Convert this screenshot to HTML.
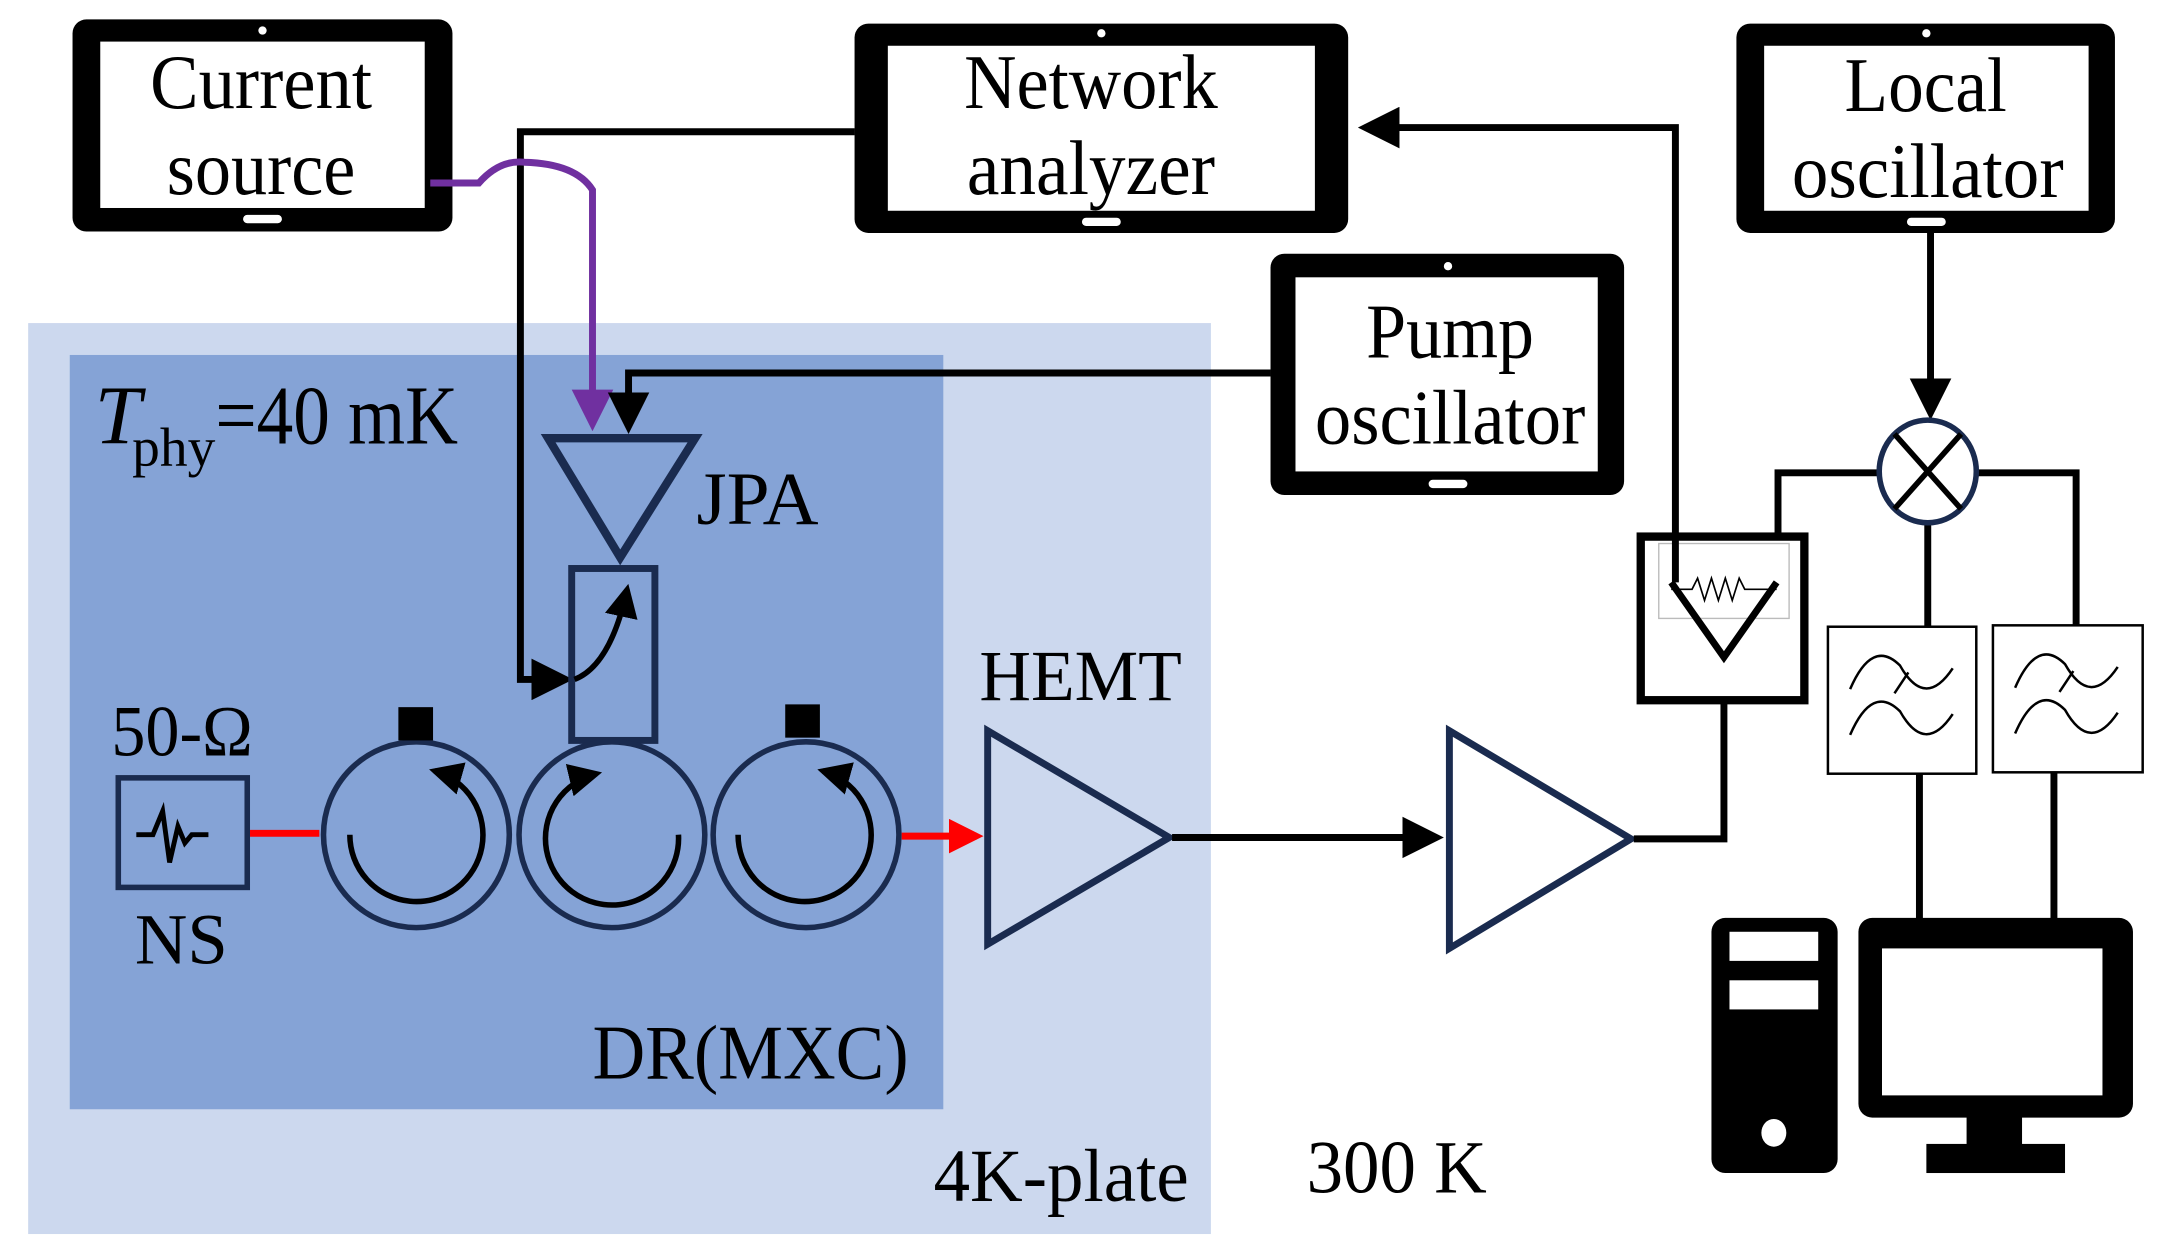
<!DOCTYPE html>
<html><head><meta charset="utf-8"><style>
html,body{margin:0;padding:0;background:#fff;}
svg{display:block;}
text{font-family:"Liberation Serif",serif;fill:#000;}
</style></head><body>
<svg width="2175" height="1259" viewBox="0 0 1568 908" xmlns="http://www.w3.org/2000/svg">
<defs>
<marker id="ak" markerWidth="6" markerHeight="6" refX="5" refY="3" orient="auto" markerUnits="strokeWidth"><path d="M0,0 L6,3 L0,6 Z" fill="#000"/></marker>
<marker id="ap" markerWidth="6" markerHeight="6" refX="5" refY="3" orient="auto" markerUnits="strokeWidth"><path d="M0,0 L6,3 L0,6 Z" fill="#7030a0"/></marker>
<marker id="ar" markerWidth="5" markerHeight="5" refX="4" refY="2.5" orient="auto" markerUnits="strokeWidth"><path d="M0,0 L5,2.5 L0,5 Z" fill="#ff0000"/></marker>
</defs>
<rect x="20" y="233" width="853" height="657" fill="#ccd8ee"/>
<rect x="50" y="256" width="630" height="544" fill="#85a3d6"/>

<g>
<rect x="52" y="14" width="274" height="153" rx="10" fill="#000"/>
<rect x="72" y="30" width="234" height="120" fill="#fff"/>
<circle cx="189" cy="22" r="3" fill="#fff"/><rect x="175" y="155" width="28" height="6" rx="3" fill="#fff"/>
<text x="108" y="78" font-size="56" textLength="160" lengthAdjust="spacingAndGlyphs">Current</text>
<text x="120" y="140" font-size="56" textLength="136" lengthAdjust="spacingAndGlyphs">source</text>
</g>
<g>
<rect x="616" y="17" width="356" height="151" rx="10" fill="#000"/>
<rect x="640" y="33" width="308" height="119" fill="#fff"/>
<circle cx="794" cy="24" r="3" fill="#fff"/><rect x="780" y="157" width="28" height="6" rx="3" fill="#fff"/>
<text x="695" y="78" font-size="56" textLength="183" lengthAdjust="spacingAndGlyphs">Network</text>
<text x="697" y="140" font-size="56" textLength="179" lengthAdjust="spacingAndGlyphs">analyzer</text>
</g>
<g>
<rect x="1252" y="17" width="273" height="151" rx="10" fill="#000"/>
<rect x="1272" y="33" width="234" height="119" fill="#fff"/>
<circle cx="1389" cy="24" r="3" fill="#fff"/><rect x="1375" y="157" width="28" height="6" rx="3" fill="#fff"/>
<text x="1330" y="80" font-size="56" textLength="117" lengthAdjust="spacingAndGlyphs">Local</text>
<text x="1292" y="142" font-size="56" textLength="196" lengthAdjust="spacingAndGlyphs">oscillator</text>
</g>
<g>
<rect x="916" y="183" width="255" height="174" rx="10" fill="#000"/>
<rect x="934" y="200" width="218" height="140" fill="#fff"/>
<circle cx="1044" cy="192" r="3" fill="#fff"/><rect x="1030" y="346" width="28" height="6" rx="3" fill="#fff"/>
<text x="985" y="258" font-size="56" textLength="121" lengthAdjust="spacingAndGlyphs">Pump</text>
<text x="948" y="320" font-size="56" textLength="195" lengthAdjust="spacingAndGlyphs">oscillator</text>
</g>

<polyline points="616,95 375,95 375,490 408,490" fill="none" stroke="#000" stroke-width="5" marker-end="url(#ak)"/>
<path d="M310,132 L345,132 Q360,115 378,117 Q415,118 427,137 L427,306" fill="none" stroke="#7030a0" stroke-width="5" marker-end="url(#ap)"/>
<polyline points="916,269 453,269 453,308" fill="none" stroke="#000" stroke-width="5" marker-end="url(#ak)"/>

<polygon points="395,316 501,316 447,402" fill="none" stroke="#1a2b4f" stroke-width="6"/>
<text x="502" y="378" font-size="54" textLength="88" lengthAdjust="spacingAndGlyphs">JPA</text>
<rect x="412" y="410" width="60" height="124" fill="none" stroke="#1a2b4f" stroke-width="5"/>
<path d="M414,490 Q440,480 452,425" fill="none" stroke="#000" stroke-width="4" marker-end="url(#ak)"/>

<g stroke="#1a2b4f" stroke-width="4" fill="#85a3d6">
<circle cx="300" cy="602" r="67"/><circle cx="441" cy="602" r="67"/><circle cx="581" cy="602" r="67"/>
</g>
<rect x="287" y="510" width="25" height="24" fill="#000"/>
<rect x="566" y="508" width="25" height="24" fill="#000"/>
<g fill="none" stroke="#000" stroke-width="4">
<path d="M252,602 A48,48 0 1,0 313,556" marker-end="url(#ak)"/>
<path d="M532,602 A48,48 0 1,0 593,556" marker-end="url(#ak)"/>
<path d="M489,602 A48,48 0 1,1 430,558" marker-end="url(#ak)"/>
</g>

<rect x="85" y="561" width="93" height="79" fill="none" stroke="#1a2b4f" stroke-width="4"/>
<polyline points="98,602 110,602 117,585 122,622 128,596 133,608 138,602 150,602" fill="none" stroke="#000" stroke-width="3.5"/>
<text x="80" y="545" font-size="52" textLength="102" lengthAdjust="spacingAndGlyphs">50-Ω</text>
<text x="97" y="695" font-size="52" textLength="67" lengthAdjust="spacingAndGlyphs">NS</text>
<line x1="180" y1="601" x2="230" y2="601" stroke="#ff0000" stroke-width="5"/>
<line x1="650" y1="603" x2="704" y2="603" stroke="#ff0000" stroke-width="5" marker-end="url(#ar)"/>

<polygon points="712,527 712,681 843,604" fill="none" stroke="#1a2b4f" stroke-width="5"/>
<text x="706" y="505" font-size="52" textLength="146" lengthAdjust="spacingAndGlyphs">HEMT</text>
<line x1="845" y1="604" x2="1036" y2="604" stroke="#000" stroke-width="5" marker-end="url(#ak)"/>
<polygon points="1045,527 1045,684 1176,605" fill="#fff" stroke="#1a2b4f" stroke-width="5"/>
<polyline points="1178,605 1243,605 1243,470" fill="none" stroke="#000" stroke-width="5"/>

<rect x="1183" y="387" width="118" height="118" fill="#fff" stroke="#000" stroke-width="6"/>
<rect x="1196" y="392" width="94" height="54" fill="none" stroke="#bbb" stroke-width="1"/>
<polyline points="1205,420 1243,474 1281,420" fill="none" stroke="#000" stroke-width="5"/>
<polyline points="1205,425 1220,425 1224,417 1229,433 1234,417 1239,433 1244,417 1249,433 1254,417 1258,425 1281,425" fill="none" stroke="#000" stroke-width="1.2"/>
<polyline points="1208,420 1208,92 984,92" fill="none" stroke="#000" stroke-width="5" marker-end="url(#ak)"/>

<line x1="1392" y1="168" x2="1392" y2="298" stroke="#000" stroke-width="5" marker-end="url(#ak)"/>
<polyline points="1355,341 1282,341 1282,388" fill="none" stroke="#000" stroke-width="5"/>
<polyline points="1425,341 1497,341 1497,452" fill="none" stroke="#000" stroke-width="5"/>
<line x1="1390" y1="378" x2="1390" y2="452" stroke="#000" stroke-width="5"/>
<ellipse cx="1390" cy="340" rx="35" ry="37" fill="#fff" stroke="#1a2b4f" stroke-width="4"/>
<line x1="1366" y1="313" x2="1414" y2="367" stroke="#000" stroke-width="4"/>
<line x1="1414" y1="313" x2="1366" y2="367" stroke="#000" stroke-width="4"/>

<g fill="none" stroke="#000" stroke-width="1.8">
<rect x="1318" y="452" width="107" height="106" fill="#fff"/>
<rect x="1437" y="451" width="108" height="106" fill="#fff"/>
<path d="M1334,497 Q1350,460 1370,480 Q1388,512 1408,482"/>
<path d="M1334,530 Q1350,493 1370,513 Q1388,545 1408,515"/>
<line x1="1366" y1="500" x2="1376" y2="485"/>
<path d="M1453,496 Q1469,459 1489,479 Q1507,511 1527,481"/>
<path d="M1453,529 Q1469,492 1489,512 Q1507,544 1527,514"/>
<line x1="1485" y1="499" x2="1495" y2="484"/>
</g>
<line x1="1384" y1="558" x2="1384" y2="664" stroke="#000" stroke-width="5"/>
<line x1="1481" y1="557" x2="1481" y2="664" stroke="#000" stroke-width="5"/>

<rect x="1234" y="662" width="91" height="184" rx="10" fill="#000"/>
<rect x="1247" y="672" width="64" height="21" fill="#fff"/>
<rect x="1247" y="707" width="64" height="21" fill="#fff"/>
<ellipse cx="1279" cy="817" rx="9" ry="10" fill="#fff"/>
<rect x="1340" y="662" width="198" height="144" rx="10" fill="#000"/>
<rect x="1357" y="684" width="159" height="106" fill="#fff"/>
<rect x="1418" y="804" width="40" height="24" fill="#000"/>
<rect x="1389" y="825" width="100" height="21" fill="#000"/>

<text x="68" y="320" font-size="60" font-style="italic">T</text>
<text x="95" y="336" font-size="40">phy</text>
<text x="155" y="320" font-size="60" textLength="175" lengthAdjust="spacingAndGlyphs">=40 mK</text>
<text x="427" y="778" font-size="56" textLength="228" lengthAdjust="spacingAndGlyphs">DR(MXC)</text>
<text x="673" y="866" font-size="54" textLength="184" lengthAdjust="spacingAndGlyphs">4K-plate</text>
<text x="942" y="860" font-size="54" textLength="130" lengthAdjust="spacingAndGlyphs">300 K</text>
</svg>
</body></html>
